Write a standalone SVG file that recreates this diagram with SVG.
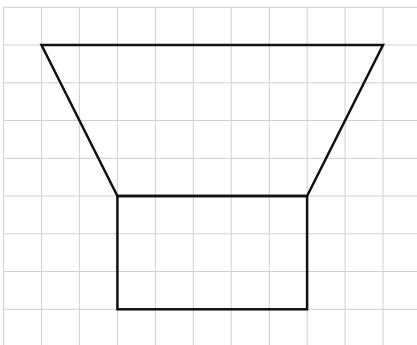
<svg xmlns="http://www.w3.org/2000/svg" width="417" height="345" viewBox="0 0 417 345">
<style>
.g{stroke:#d0d0d0;stroke-width:1;fill:none}
.s{stroke:#111;stroke-width:2.5;fill:none;stroke-linejoin:miter}
</style>
<rect width="417" height="345" fill="#fff"/>
<g id="grid" class="g">
<path d="M3.5 7.3V345M41.5 7.3V345M79.4 7.3V345M117.4 7.3V345M155.3 7.3V345M193.3 7.3V345M231.2 7.3V345M269.2 7.3V345M307.1 7.3V345M345.1 7.3V345M383 7.3V345"/>
<path d="M3.5 7.3H417M3.5 45H417M3.5 82.8H417M3.5 120.5H417M3.5 158.3H417M3.5 196H417M3.5 233.8H417M3.5 271.5H417M3.5 309.3H417"/>
</g>
<g id="shape" class="s">
<path d="M41.5 45H383L307.1 196H117.4Z"/>
<rect x="117.4" y="196" width="189.7" height="113.3"/>
</g>
</svg>
